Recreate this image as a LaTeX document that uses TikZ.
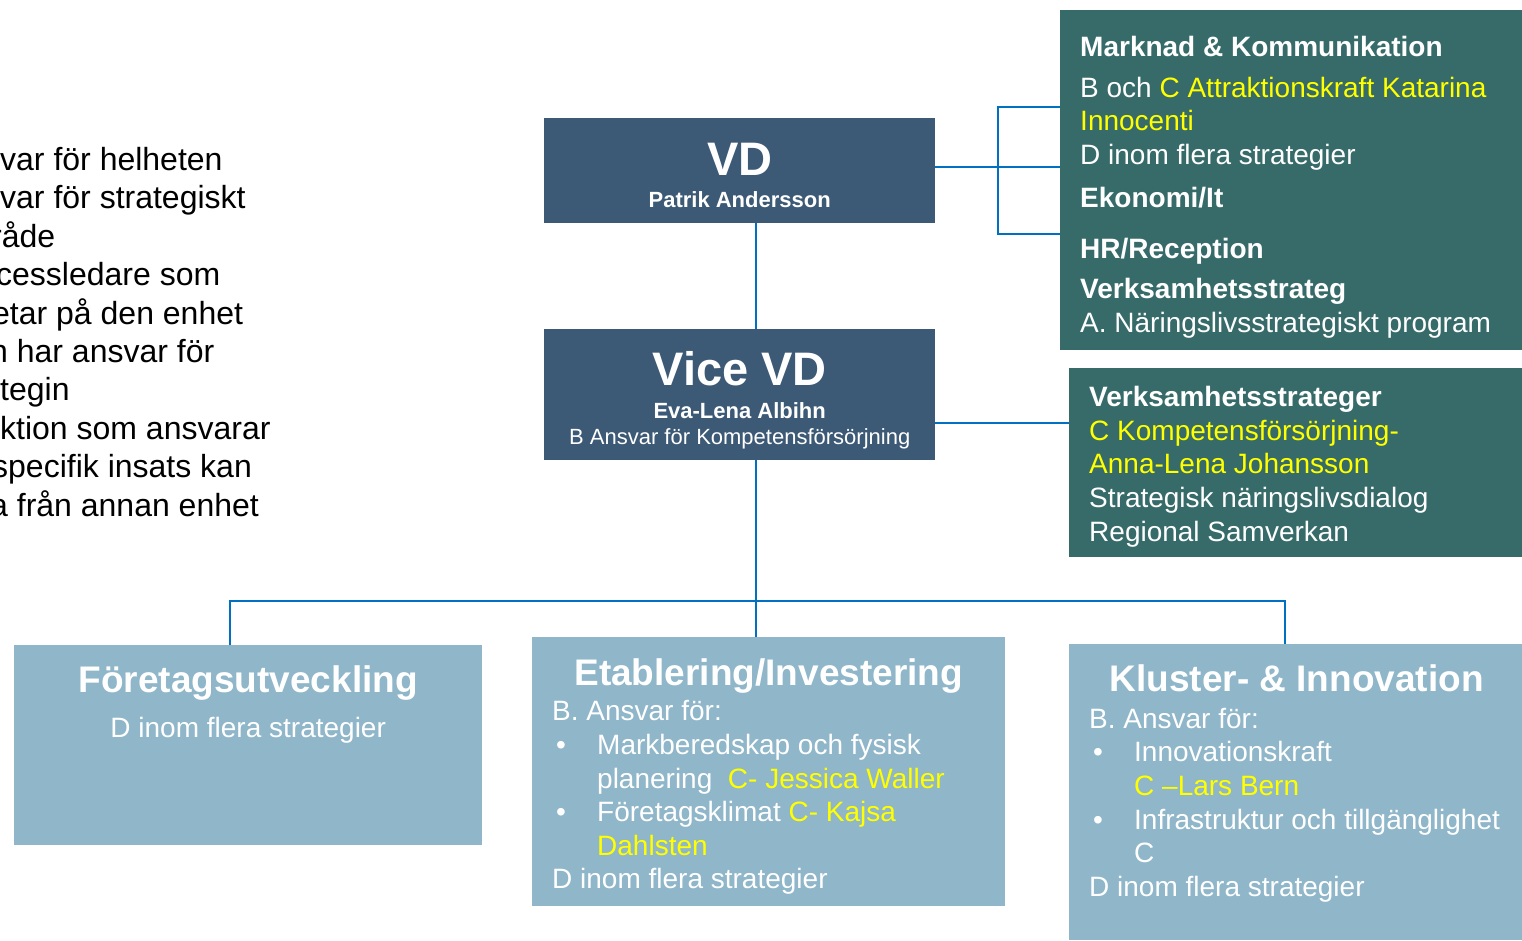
\documentclass[tikz,border=0pt]{standalone}
\usepackage{fontspec}
\setmainfont{Liberation Sans}
\usetikzlibrary{positioning,calc}
\definecolor{vdblue}{RGB}{60,89,118}
\definecolor{staff}{RGB}{54,107,106}
\definecolor{unitblue}{RGB}{143,182,201}
\definecolor{linkblue}{RGB}{0,112,192}
\definecolor{hl}{RGB}{255,255,0}
\newcommand{\bul}{\makebox[45pt][l]{\hspace*{4pt}\textbullet}}
\newcommand{\ind}{\hspace*{45pt}}

\begin{document}
\begin{tikzpicture}[x=1pt, y=-1pt,
    box/.style = {draw=none, anchor=north west, inner sep=0pt},
    lead/.style = {box, fill=vdblue},
    staffbox/.style = {box, fill=staff},
    unit/.style = {box, fill=unitblue},
    txt/.style = {anchor=base west, inner sep=0pt, align=left, text=white, font=\fontsize{28}{34}\selectfont},
    head/.style = {anchor=base, inner sep=0pt, align=center, text=white, font=\bfseries\fontsize{37}{44}\selectfont},
    link/.style = {draw=linkblue, line width=2.5pt}]

\useasboundingbox (0,0) rectangle (1522,940);

\node[anchor=base west, inner sep=0pt, align=left, font=\fontsize{32}{38.4}\selectfont] (notes) at (0,516)
    {var för helheten\\
     var för strategiskt\\
     \hspace*{-9pt}råde\\
     \hspace*{-4pt}cessledare som\\
     \hspace*{-8pt}etar på den enhet\\
     \hspace*{-10pt}n har ansvar för\\
     tegin\\
     ktion som ansvarar\\
     \hspace*{-8pt}specifik insats kan\\
     \hspace*{-10pt}a från annan enhet};

\node[lead, minimum width=391, minimum height=105] (vd) at (544,118) {};
\node[lead, minimum width=391, minimum height=131] (vice) at (544,329) {};
\node[staffbox, minimum width=462, minimum height=340] (mk) at (1060,10) {};
\node[staffbox, minimum width=453, minimum height=189] (vs) at (1069,368) {};
\node[unit, minimum width=468, minimum height=200] (fu) at (14,645) {};
\node[unit, minimum width=473, minimum height=269] (et) at (532,637) {};
\node[unit, minimum width=453, minimum height=296] (kl) at (1069,644) {};

\node[head, font=\bfseries\fontsize{47}{50}\selectfont] (vdtitle) at ($(vd.north)+(0,57)$) {VD};
\node[head, font=\bfseries\fontsize{22}{26}\selectfont] (vdname) at ($(vd.north)+(0,89)$) {Patrik Andersson};
\node[head, font=\bfseries\fontsize{47}{50}\selectfont] (vicetitle) at ($(vice.north)+(0,56)$) {Vice VD};
\node[head, font=\fontsize{22}{26}\selectfont, align=center] (vicename) at ($(vice.north)+(0,115)$)
    {\textbf{Eva-Lena Albihn}\\B Ansvar för Kompetensförsörjning};

\node[txt] (mktext) at (1080,332)
    {\textbf{Marknad \& Kommunikation}\\[7pt]
     B och {\color{hl}C Attraktionskraft Katarina}\\[-1pt]
     {\color{hl}Innocenti}\\
     D inom flera strategier\\[9pt]
     \textbf{Ekonomi/It}\\[17pt]
     \textbf{HR/Reception}\\[6pt]
     \textbf{Verksamhetsstrateg}\\
     A. Näringslivsstrategiskt program};

\node[txt] (vstext) at (1089,541)
    {\textbf{Verksamhetsstrateger}\\
     {\color{hl}C Kompetensförsörjning-}\\[-1pt]
     {\color{hl}Anna-Lena Johansson}\\
     Strategisk näringslivsdialog\\
     Regional Samverkan};

\node[head] (futitle) at ($(fu.north)+(0,47)$) {Företagsutveckling};
\node[txt, anchor=base] (futext) at ($(fu.north)+(0,92)$) {D inom flera strategier};

\node[head] (ettitle) at ($(et.north)+(0,48)$) {Etablering/Investering};
\node[txt] (ettext) at (552,888)
    {B. Ansvar för:\\
     \bul Markberedskap och fysisk\\
     \ind planering\ \ {\color{hl}C- Jessica Waller}\\[-1pt]
     \bul Företagsklimat {\color{hl}C- Kajsa}\\
     \ind{\color{hl}Dahlsten}\\[-1pt]
     D inom flera strategier};

\node[head] (kltitle) at ($(kl.north)+(1,47)$) {Kluster- \& Innovation};
\node[txt] (kltext) at (1089,896)
    {B. Ansvar för:\\[-1pt]
     \bul Innovationskraft\\
     \ind{\color{hl}C –Lars Bern}\\
     \bul Infrastruktur och tillgänglighet\\[-1pt]
     \ind C\\
     D inom flera strategier};

\coordinate (bus) at (756,601);
\coordinate (busL) at (230,601);
\coordinate (busR) at (1285,601);
\coordinate (brk) at (998,167);
\coordinate (brkT) at (998,107);
\coordinate (brkB) at (998,234);

\draw[link] (vd.south -| bus) -- (vice.north -| bus);
\draw[link] (vice.south -| bus) -- (et.north -| bus);
\draw[link] (fu.north -| busL) -- (busL) -- (busR) -- (kl.north -| busR);
\draw[link] (vd.east |- brk) -- (mk.west |- brk);
\draw[link] (mk.west |- brkT) -- (brkT) -- (brkB) -- (mk.west |- brkB);
\draw[link] ([yshift=-28.5pt]vice.east) -- ([yshift=-28.5pt]vice.east -| vs.west);
\end{tikzpicture}
\end{document}
